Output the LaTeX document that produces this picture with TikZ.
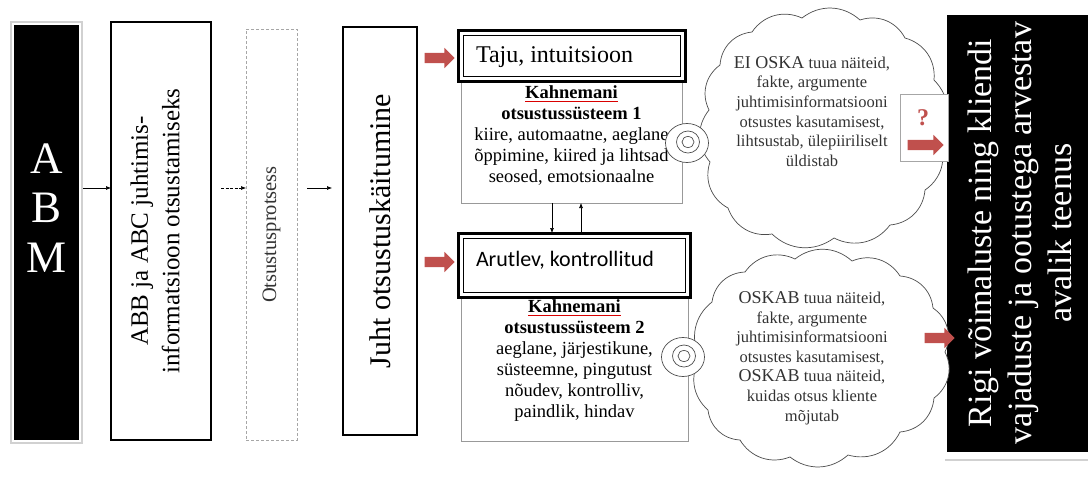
\documentclass[tikz,border=0pt]{standalone}
\usepackage{fontspec}
\setmainfont{Liberation Serif}
\newfontfamily\carlito{Carlito}
\usetikzlibrary{arrows.meta,shapes.arrows,shapes.geometric}
\definecolor{accentred}{HTML}{C0504D}
\definecolor{framegray}{gray}{0.82}
\definecolor{inkgray}{gray}{0.2}
\newcommand\fs[2]{\fontsize{#1}{#2}\selectfont}
% word with a thin red proofing underline
\newcommand\spellmark[1]{\setbox0\hbox{#1}\rlap{\color{red!85!black}\raisebox{-2.4pt}{\rule{\wd0}{0.6pt}}}#1}

\begin{document}
\begin{tikzpicture}[x=1pt,y=-1pt,
  every node/.style={inner sep=0pt,outer sep=0pt},
  blackbox/.style={fill=black,draw=none},
  heavybox/.style={draw=black,line width=2pt,fill=white},
  framebox/.style={draw=black,line width=3pt,fill=white},
  thinbox/.style={draw=gray!80,line width=0.8pt,fill=white},
  dashbox/.style={draw=gray!70,line width=0.9pt,dash pattern=on 3pt off 2pt},
  flow/.style={line width=0.6pt,-{Latex[length=5pt,width=4pt]}},
  redarrow/.style={single arrow,fill=accentred,draw=none,inner xsep=0pt,inner ysep=5pt,
    minimum height=30pt,minimum width=20pt,single arrow head extend=5pt,
    single arrow head indent=0pt},
  cloudline/.style={draw=gray!60!black,line width=0.7pt,fill=white},
  puff/.style={bend left=40},
  bubble/.style={ellipse,draw=gray!60!black,line width=0.7pt,fill=white},
  cloudtext/.style={align=center,text=inkgray,font=\fs{16.5}{19.6}},
  bodytext/.style={align=center,font=\fs{18.5}{21}}
]
\useasboundingbox (0,0) rectangle (1088,477);

% row of the small black connectors
\coordinate (row) at (0,188);

% ABM column
\draw[framegray,line width=2pt] (11,22) rectangle (82,443);
\node[blackbox,minimum width=65pt,minimum height=415pt] (abm) at (46.5,232.5) {};
\node[text=white,align=center,font=\fs{45}{49.5}] (abmtext) at (46.5,208) {A\\B\\M};

% management accounting information box
\node[heavybox,minimum width=100pt,minimum height=418pt] (abb) at (161,231) {};
\node[rotate=90,align=center,font=\fs{25}{31.5}] (abbtext) at (155,231)
  {ABB ja ABC juhtimis-\\informatsioon otsustamiseks};

% decision process (dashed)
\node[dashbox,minimum width=51pt,minimum height=411pt] (proc) at (271.5,234.5) {};
\node[rotate=90,text=inkgray,font=\fs{20.5}{22}] (proctext) at (proc.center) {Otsustusprotsess};

% manager decision behaviour
\node[heavybox,minimum width=74pt,minimum height=408pt] (juht) at (380,231) {};
\node[rotate=90,font=\fs{30}{32}] (juhttext) at (juht.center) {Juht otsustuskäitumine};

\draw[flow,shorten <=4pt] (abm.east |- row) -- (abb.west |- row);
\draw[flow,shorten <=10pt,dash pattern=on 3pt off 1.5pt] (abb.east |- row) -- (proc.west |- row);
\draw[flow,shorten <=10pt,shorten >=11pt] (proc.east |- row) -- (juht.west |- row);

% system 1
\node[thinbox,minimum width=221pt,minimum height=122pt,anchor=north] (k1) at (571.5,81) {};
\node[framebox,minimum width=227pt,minimum height=51pt] (taju) at (571.5,55.5) {};
\draw[line width=0.8pt] ([shift={(5,5)}]taju.north west) rectangle ([shift={(-5,-5)}]taju.south east);
\node[anchor=west,font=\fs{24}{26}] (tajutext) at (476,57) {Taju, intuitsioon};
\node[bodytext,anchor=north] (k1text) at (571.5,86)
  {\textbf{\spellmark{Kahnemani}}\\\textbf{otsustussüsteem 1}\\kiire, automaatne, aeglane\\õppimine, kiired ja lihtsad\\seosed, emotsionaalne};

% system 2
\node[thinbox,minimum width=227pt,minimum height=144pt,anchor=north] (k2) at (574.5,297) {};
\node[framebox,minimum width=232pt,minimum height=64pt] (aru) at (574,265) {};
\draw[line width=0.8pt] ([shift={(5,5)}]aru.north west) rectangle ([shift={(-5,-5)}]aru.south east);
\node[anchor=west,font=\carlito\fs{22}{24}] (arutext) at (476,260) {Arutlev, kontrollitud};
\node[bodytext,anchor=north] (k2text) at (574.5,300)
  {\textbf{\spellmark{Kahnemani}}\\\textbf{otsustussüsteem 2}\\aeglane, järjestikune,\\süsteemne, pingutust\\nõudev, kontrolliv,\\paindlik, hindav};

% links between the two systems
\coordinate (dn) at (552,0);
\coordinate (up) at (581,0);
\draw[flow] (k1.south -| dn) -- (aru.north -| dn);
\draw[flow] (aru.north -| up) -- (k1.south -| up);

% red inputs from the manager
\node[redarrow] (in1) at (437,58) {};
\node[redarrow] (in2) at (437,262) {};

% public service outcome
\draw[framegray,line width=1.5pt] (945,460) -- (1088,460);
\node[blackbox,minimum width=141pt,minimum height=437pt] (out) at (1017.5,233.5) {};
\node[rotate=90,align=center,text=white,font=\fs{34}{40}] (outtext) at (1020,233)
  {Rigi võimaluste ning kliendi\\vajaduste ja ootustega arvestav\\avalik teenus};

% thought clouds, built from outward puffs
\draw[cloudline] (720,65) to[puff] (752,32) to[puff] (802,18) to[puff] (860,20)
  to[puff] (905,38) to[puff] (934,80) to[puff] (939,140) to[puff] (925,190)
  to[puff] (890,225) to[puff] (834,238) to[puff] (772,234) to[puff] (728,208)
  to[puff] (710,162) to[puff] (709,110) to[puff] (720,65) -- cycle;
\node[cloudtext] (c1text) at (812,111.5)
  {{\fs{18}{19.6}EI OSKA} tuua näiteid,\\fakte, argumente\\juhtimisinformatsiooni\\otsustes kasutamisest,\\lihtsustab, ülepiiriliselt\\üldistab};

\draw[cloudline] (712,302) to[puff] (745,272) to[puff] (795,259) to[puff] (852,261)
  to[puff] (900,276) to[puff] (933,308) to[puff] (945,352) to[puff] (934,398)
  to[puff] (900,432) to[puff] (848,455) to[puff] (790,457) to[puff] (740,440)
  to[puff] (708,410) to[puff] (700,358) to[puff] (712,302) -- cycle;
\node[cloudtext] (c2text) at (812,358)
  {{\fs{18}{19.6}OSKAB} tuua näiteid,\\fakte, argumente\\juhtimisinformatsiooni\\otsustes kasutamisest,\\{\fs{18}{19.6}OSKAB} tuua näiteid,\\kuidas otsus kliente\\mõjutab};

% cloud tails
\node[bubble,minimum width=43pt,minimum height=39pt] (t1) at (687,143) {};
\node[bubble,minimum width=23pt,minimum height=22pt] (t1b) at (688,142) {};
\node[bubble,minimum width=12pt,minimum height=11pt] (t1c) at (688,142) {};
\node[bubble,minimum width=43pt,minimum height=39pt] (t2) at (683,357) {};
\node[bubble,minimum width=23pt,minimum height=22pt] (t2b) at (684,356) {};
\node[bubble,minimum width=12pt,minimum height=11pt] (t2c) at (684,356) {};

% question box and outgoing arrows
\node[draw=gray!70,line width=0.7pt,fill=white,minimum width=48pt,minimum height=67pt] (qbox) at (924,127.5) {};
\node[text=accentred,font=\bfseries\fs{24}{24}] (qmark) at (923,118) {?};
\node[redarrow,minimum height=36pt] (out1) at (923,145) {};
\node[redarrow] (out2) at (937,338) {};
\end{tikzpicture}
\end{document}
